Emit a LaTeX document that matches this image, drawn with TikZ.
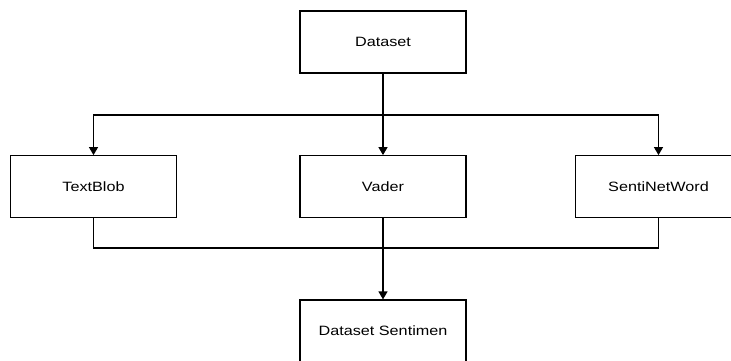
\documentclass[tikz,border=0pt]{standalone}
\usepackage{fontspec}
\setmainfont{Liberation Sans}[FakeStretch=1.2]
\usetikzlibrary{arrows.meta}

\begin{document}
\begin{tikzpicture}[x=1pt,y=-1pt,line width=1.2pt,
    box/.style={draw, minimum width=166pt, minimum height=62pt, inner sep=0pt,
        font=\fontsize{13.5}{16}\selectfont},
    >={Triangle[width=9pt,length=8pt]}]
\useasboundingbox (0,0) rectangle (731,360);
% boxes
    \node[box] (dataset) at (383,42) {Dataset};
    \node[box] (textblob) at (93.5,186.7) {TextBlob};
    \node[box] (vader) at (383,186.7) {Vader};
    \node[box] (senti) at (658.5,186.7) {SentiNetWord};
    \node[box] (result) at (383,331) {Dataset Sentimen};

    % split and join points
    \coordinate (split) at (383,115);
    \coordinate (join) at (383,248);

    \draw[->] (dataset) -- (vader);
    \draw[->] (split) -| (textblob);
    \draw[->] (split) -| (senti);
    \draw (textblob) |- (join) -| (senti);
    \draw[->] (vader) -- (result);
\end{tikzpicture}
\end{document}
